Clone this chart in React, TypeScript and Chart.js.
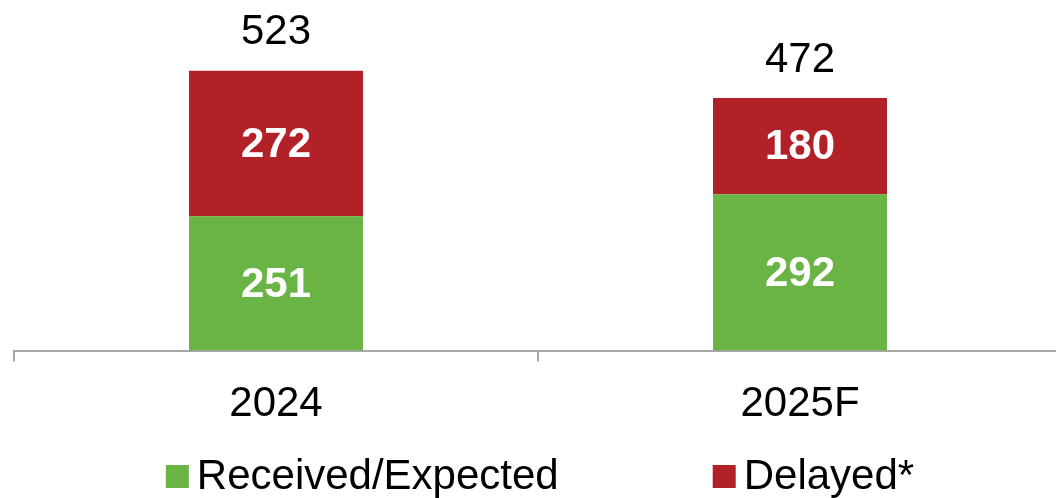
import React, { useEffect, useRef } from 'react';
import { Chart, registerables } from 'chart.js';

Chart.register(...registerables);

const categories = ['2024', '2025F'];
const receivedValues = [251, 292];
const delayedValues = [272, 180];
const totalValues = [523, 472];
const seriesLabels = ['Received/Expected', 'Delayed*'];
const seriesColors = ['#6AB446', '#B22028'];

const FONT = "'Liberation Sans', Arial, Helvetica, sans-serif";
const FONT_SIZE = 42;

const valueLabelsPlugin = {
  id: 'valueLabels',
  afterDatasetsDraw(chart: any) {
    const ctx = chart.ctx;
    ctx.save();
    ctx.textAlign = 'center';
    ctx.textBaseline = 'middle';
    chart.data.datasets.forEach((ds: any, di: number) => {
      const meta = chart.getDatasetMeta(di);
      meta.data.forEach((bar: any, i: number) => {
        const p = bar.getProps(['x', 'y', 'base'], true);
        ctx.font = `bold ${FONT_SIZE}px ${FONT}`;
        ctx.fillStyle = '#FFFFFF';
        ctx.fillText(String(ds.data[i]), p.x, (p.y + p.base) / 2 + 1.5);
      });
    });
    const lastMeta = chart.getDatasetMeta(chart.data.datasets.length - 1);
    ctx.font = `${FONT_SIZE}px ${FONT}`;
    ctx.fillStyle = '#000000';
    lastMeta.data.forEach((bar: any, i: number) => {
      const p = bar.getProps(['x', 'y'], true);
      ctx.fillText(String(totalValues[i]), p.x, p.y - 38);
    });
    ctx.restore();
  },
};

const bottomLegendPlugin = {
  id: 'bottomLegend',
  afterDraw(chart: any) {
    const ctx = chart.ctx;
    const box = 23;
    const gapBoxText = 8;
    const gapItems = 154;
    const centerX = 540;
    const centerY = 476.5;
    ctx.save();
    ctx.font = `${FONT_SIZE}px ${FONT}`;
    ctx.textBaseline = 'middle';
    ctx.textAlign = 'left';
    const items = chart.data.datasets.map((ds: any) => ({
      text: ds.label,
      color: ds.backgroundColor,
      w: box + gapBoxText + ctx.measureText(ds.label).width,
    }));
    const total = items.reduce((s: number, it: any) => s + it.w, 0) + gapItems * (items.length - 1);
    let x = centerX - total / 2;
    items.forEach((it: any) => {
      ctx.fillStyle = it.color;
      ctx.fillRect(x, centerY - box / 2, box, box);
      ctx.fillStyle = '#000000';
      ctx.fillText(it.text, x + box + gapBoxText, centerY + 1);
      x += it.w + gapItems;
    });
    ctx.restore();
  },
};

export default function App() {
  const canvasRef = useRef<HTMLCanvasElement | null>(null);

  useEffect(() => {
    document.body.style.margin = '0';
    document.body.style.overflow = 'hidden';
    document.documentElement.style.overflow = 'hidden';
    const canvas = canvasRef.current;
    if (!canvas) return;
    const chart = new Chart(canvas, {
      type: 'bar',
      data: {
        labels: categories,
        datasets: [
          {
            label: seriesLabels[0],
            data: receivedValues,
            backgroundColor: seriesColors[0],
            categoryPercentage: 1,
            barPercentage: 0.332,
          },
          {
            label: seriesLabels[1],
            data: delayedValues,
            backgroundColor: seriesColors[1],
            categoryPercentage: 1,
            barPercentage: 0.332,
          },
        ],
      },
      options: {
        animation: false,
        responsive: true,
        maintainAspectRatio: false,
        layout: { padding: { left: 14, right: 0, top: 0, bottom: 50 } },
        plugins: {
          legend: { display: false },
          tooltip: { enabled: false },
        },
        scales: {
          x: {
            stacked: true,
            offset: true,
            grid: {
              display: true,
              offset: true,
              drawOnChartArea: false,
              drawTicks: true,
              tickLength: 11,
              color: '#A6A6A6',
              lineWidth: 2,
            },
            border: { display: true, color: '#A6A6A6', width: 2 },
            ticks: {
              color: '#000000',
              font: { size: FONT_SIZE, family: FONT },
              padding: 18,
              maxRotation: 0,
              autoSkip: false,
            },
          },
          y: {
            stacked: true,
            display: false,
            min: 0,
            max: 655,
          },
        },
      },
      plugins: [valueLabelsPlugin, bottomLegendPlugin],
    });
    return () => chart.destroy();
  }, []);

  return (
    <div style={{ position: 'relative', width: 1062, height: 498, overflow: 'hidden' }}>
      <canvas ref={canvasRef} />
    </div>
  );
}
